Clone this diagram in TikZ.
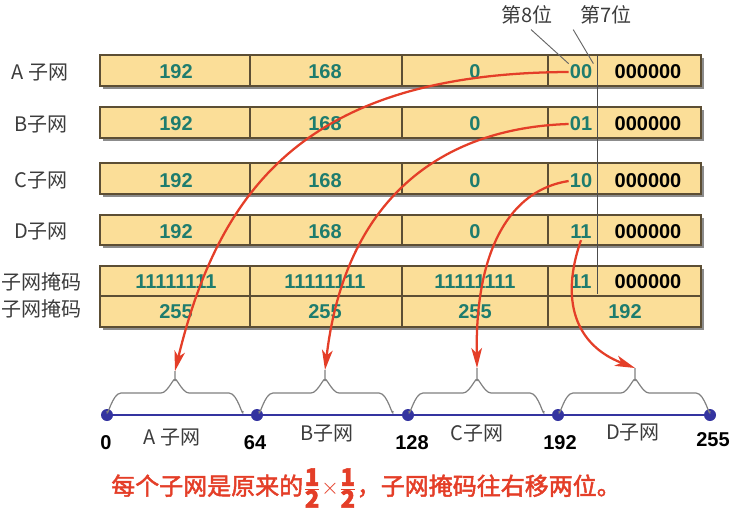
\documentclass[tikz,border=0pt]{standalone}
\usepackage{fontspec}
\setmainfont{Liberation Sans}
\newfontfamily\cjk{Noto Sans CJK SC}
\newfontfamily\cjkbf[FakeBold=2]{Noto Sans CJK SC}
\usepackage{xcolor}
\usetikzlibrary{arrows.meta}

\definecolor{cellfill}{RGB}{251,222,152}
\definecolor{cellline}{RGB}{92,78,52}
\definecolor{numteal}{RGB}{30,124,110}
\definecolor{labgray}{RGB}{60,60,60}
\definecolor{arrowred}{RGB}{228,62,40}
\definecolor{lineblue}{RGB}{52,52,160}

\begin{document}
\begin{tikzpicture}[x=0.75pt,y=0.75pt,yscale=-1,xscale=1,
  cell/.style={draw=cellline,fill=cellfill,line width=0.9pt},
  cellshadow/.style={fill=black!45,draw=none},
  ipnum/.style={inner sep=0.75pt,text=numteal,font=\fontsize{15}{18}\selectfont\bfseries},
  hostbits/.style={inner sep=0.75pt,text=black,font=\fontsize{15}{18}\selectfont\bfseries},
  rowlab/.style={inner sep=0.75pt,text=labgray,font=\fontsize{15}{18}\selectfont\cjk},
  leader/.style={draw=black!60,line width=0.7pt},
  subbrace/.style={draw=black!50,line width=0.9pt},
  dot/.style={circle,fill=lineblue,inner sep=0pt,minimum size=9pt},
  ticklab/.style={inner sep=0.75pt,text=black,font=\fontsize{15}{18}\selectfont\bfseries},
  redarrow/.style={draw=arrowred,line width=1.7pt,-{Stealth[length=15pt,width=8pt,inset=4pt]}}]
\useasboundingbox (0,0) rectangle (738,511);

%Shape: Rectangle shadows
\fill[cellshadow] (103,58) rectangle (704,89);
\fill[cellshadow] (103,110) rectangle (704,141);
\fill[cellshadow] (103,166) rectangle (704,197);
\fill[cellshadow] (103,218) rectangle (704,248);
\fill[cellshadow] (103,269) rectangle (704,330);

%Shape: Rectangle A row
\draw[cell] (100,55) rectangle (701,86);
\draw[cellline,line width=0.9pt] (250,55) -- (250,86) (402,55) -- (402,86) (548,55) -- (548,86);
%Shape: Rectangle B row
\draw[cell] (100,107) rectangle (701,138);
\draw[cellline,line width=0.9pt] (250,107) -- (250,138) (402,107) -- (402,138) (548,107) -- (548,138);
%Shape: Rectangle C row
\draw[cell] (100,163) rectangle (701,194);
\draw[cellline,line width=0.9pt] (250,163) -- (250,194) (402,163) -- (402,194) (548,163) -- (548,194);
%Shape: Rectangle D row
\draw[cell] (100,215) rectangle (701,245);
\draw[cellline,line width=0.9pt] (250,215) -- (250,245) (402,215) -- (402,245) (548,215) -- (548,245);
%Shape: Rectangle mask rows
\draw[cell] (100,266) rectangle (701,327);
\draw[cellline,line width=0.9pt] (100,296) -- (701,296) (250,266) -- (250,327) (402,266) -- (402,327) (548,266) -- (548,327);

%Straight Lines: 7th bit divider
\draw[leader,draw=black!70] (597,55) -- (597,294);

% Text Node: row labels
\node[rowlab] (labA) at (40,72) {A 子网};
\node[rowlab] (labB) at (41,124) {B子网};
\node[rowlab] (labC) at (41,180) {C子网};
\node[rowlab] (labD) at (41,231) {D子网};
\node[rowlab] (labM1) at (42,282) {子网掩码};
\node[rowlab] (labM2) at (42,309) {子网掩码};

% Text Node: top labels
\node[rowlab] (bit8) at (527,15) {第8位};
\node[rowlab] (bit7) at (606,15) {第7位};

% Text Node: A row
\node[ipnum] (a1) at (176,72) {192};
\node[ipnum] (a2) at (325,72) {168};
\node[ipnum] (a3) at (475,72) {0};
\node[ipnum] (bitsA) at (581,72) {00};
\node[hostbits] (hostA) at (648,72) {000000};
% Text Node: B row
\node[ipnum] (b1) at (176,124) {192};
\node[ipnum] (b2) at (325,124) {168};
\node[ipnum] (b3) at (475,124) {0};
\node[ipnum] (bitsB) at (581,124) {01};
\node[hostbits] (hostB) at (648,124) {000000};
% Text Node: C row
\node[ipnum] (c1) at (176,181) {192};
\node[ipnum] (c2) at (325,181) {168};
\node[ipnum] (c3) at (475,181) {0};
\node[ipnum] (bitsC) at (581,181) {10};
\node[hostbits] (hostC) at (648,181) {000000};
% Text Node: D row
\node[ipnum] (d1) at (176,232) {192};
\node[ipnum] (d2) at (325,232) {168};
\node[ipnum] (d3) at (475,232) {0};
\node[ipnum] (bitsD) at (581,232) {11};
\node[hostbits] (hostD) at (648,232) {000000};
% Text Node: mask rows
\node[ipnum] (m1) at (176,282) {11111111};
\node[ipnum] (m2) at (325,282) {11111111};
\node[ipnum] (m3) at (475,282) {11111111};
\node[ipnum] (mbits) at (581,282) {11};
\node[hostbits] (mhost) at (648,282) {000000};
\node[ipnum] (n1) at (176,312) {255};
\node[ipnum] (n2) at (325,312) {255};
\node[ipnum] (n3) at (475,312) {255};
\node[ipnum] (n4) at (625,312) {192};

%Straight Lines: leaders
\draw[leader] (bit8.south) ++(4,4) -- (bitsA.north west);
\draw[leader] (bit7.south west) ++(-6,4) -- (bitsA.north east);

%Straight Lines: number line
\node[dot] (p0) at (107,415) {};
\node[dot] (p64) at (257,415) {};
\node[dot] (p128) at (408,415) {};
\node[dot] (p192) at (558,415) {};
\node[dot] (p255) at (710,415) {};
\draw[lineblue,line width=1.6pt] (p0) -- (p64) -- (p128) -- (p192) -- (p255);

% Text Node: ticks
\node[ticklab] (t0) at (106,443) {0};
\node[ticklab] (t64) at (255,443) {64};
\node[ticklab] (t128) at (412,443) {128};
\node[ticklab] (t192) at (560,443) {192};
\node[ticklab] (t255) at (713,440) {255};

% Text Node: subnets
\node[rowlab] (sA) at (172,437) {A 子网};
\node[rowlab] (sB) at (327,433) {B子网};
\node[rowlab] (sC) at (477,433) {C子网};
\node[rowlab] (sD) at (633,432) {D子网};

%Shape: Braces
\draw[subbrace] (107,411) to[out=90,in=180] (121,393) -- (161,393) to[out=0,in=-90] (175,381) -- (175,371) coordinate (tipA) (175,381) to[out=-90,in=180] (189,393) -- (229,393) to[out=0,in=90] (243,411);
\draw[subbrace] (259,411) to[out=90,in=180] (273,393) -- (311,393) to[out=0,in=-90] (325,381) -- (325,370) coordinate (tipB) (325,381) to[out=-90,in=180] (339,393) -- (379,393) to[out=0,in=90] (393,411);
\draw[subbrace] (409,411) to[out=90,in=180] (423,393) -- (463,393) to[out=0,in=-90] (477,381) -- (477,368) coordinate (tipC) (477,381) to[out=-90,in=180] (491,393) -- (530,393) to[out=0,in=90] (544,411);
\draw[subbrace] (559,411) to[out=90,in=180] (573,393) -- (621,393) to[out=0,in=-90] (635,381) -- (635,368) coordinate (tipD) (635,381) to[out=-90,in=180] (649,393) -- (696,393) to[out=0,in=90] (710,411);

%Curves: red arrows
\draw[redarrow] (bitsA.west) .. controls (310,73) and (220,185) .. (tipA);
\draw[redarrow] (bitsB.west) .. controls (440,128) and (345,200) .. (tipB);
\draw[redarrow] (bitsC.west) .. controls (510,190) and (475,250) .. (tipC);
\draw[redarrow] (bitsD.south) .. controls (560,300) and (575,345) .. (tipD);

% Text Node: note
\node[inner sep=0.75pt,text=arrowred,font=\fontsize{18}{22}\selectfont\cjkbf] (note) at (366,488) {每个子网是原来的$\frac{\textbf{1}}{\textbf{2}}{\times}\frac{\textbf{1}}{\textbf{2}}$，子网掩码往右移两位。};

\end{tikzpicture}
\end{document}
